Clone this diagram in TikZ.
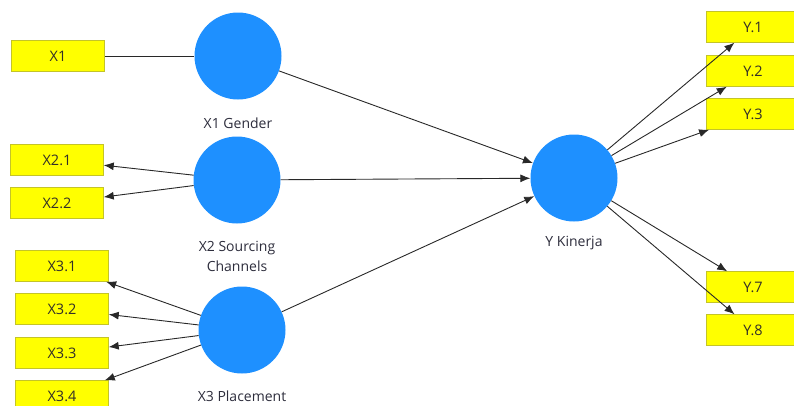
\documentclass[tikz,border=0pt]{standalone}
\usepackage{fontspec}
\setmainfont{Open Sans}
\usetikzlibrary{arrows.meta, positioning}
\definecolor{lvblue}{RGB}{30,144,255}
\definecolor{mvyellow}{RGB}{255,255,0}
\definecolor{mvborder}{RGB}{196,196,40}
\definecolor{pathgray}{RGB}{40,40,40}
\definecolor{lbltext}{RGB}{45,45,60}
\tikzstyle{latent} = [circle, fill=lvblue, minimum size=87pt, inner sep=0pt]
\tikzstyle{indicator} = [draw=mvborder, fill=mvyellow, rectangle, minimum width=93pt, minimum height=31pt, inner sep=0pt, text=black!85!olive, font=\fontsize{14.5}{16}\selectfont]
\tikzstyle{lvlabel} = [align=center, text=lbltext, font=\fontsize{14}{20}\selectfont]
\tikzstyle{link} = [draw=pathgray, line width=0.9pt]

\begin{document}
\begin{tikzpicture}[x=1pt,y=-1pt,>={Latex[length=10pt,width=8pt]}]
    \useasboundingbox (0,0) rectangle (794,405);
    \clip (0,0) rectangle (794,405);
    % indicators, left side
    \node [indicator] (x1) at (58,56) {X1};
    \node [indicator] (x21) at (57,160) {X2.1};
    \node [indicator] (x22) at (57,203) {X2.2};
    \node [indicator] (x31) at (62,266) {X3.1};
    \node [indicator] (x32) at (62,309) {X3.2};
    \node [indicator] (x33) at (62,353) {X3.3};
    \node [indicator] (x34) at (62,396) {X3.4};
    % latent variables
    \node [latent] (gender) at (238,56) {};
    \node [latent] (sourcing) at (237,180) {};
    \node [latent] (placement) at (242,330) {};
    \node [latent] (kinerja) at (574,178) {};
    \node [lvlabel] (genderlbl) at (238,123) {X1 Gender};
    \node [lvlabel] (sourcinglbl) at (237,256) {X2 Sourcing\\Channels};
    \node [lvlabel] (placementlbl) at (242,396) {X3 Placement};
    \node [lvlabel] (kinerjalbl) at (574,243) {Y Kinerja};
    % indicators, right side
    \node [indicator] (y1) at (753,27) {Y.1};
    \node [indicator] (y2) at (753,71) {Y.2};
    \node [indicator] (y3) at (753,114) {Y.3};
    \node [indicator] (y7) at (753,287) {Y.7};
    \node [indicator] (y8) at (753,330) {Y.8};
    % outer model
    \draw [link] (gender) -- (x1);
    \draw [link, ->] (sourcing) -- (x21);
    \draw [link, ->] (sourcing) -- (x22);
    \draw [link, ->] (placement) -- (x31);
    \draw [link, ->] (placement) -- (x32);
    \draw [link, ->] (placement) -- (x33);
    \draw [link, ->] (placement) -- (x34);
    \draw [link, ->] (kinerja) -- (y1);
    \draw [link, ->] (kinerja) -- (y2);
    \draw [link, ->] (kinerja) -- (y3);
    \draw [link, ->] (kinerja) -- (y7);
    \draw [link, ->] (kinerja) -- (y8);
    % inner model
    \draw [link, ->] (gender) -- (kinerja);
    \draw [link, ->] (sourcing) -- (kinerja);
    \draw [link, ->] (placement) -- (kinerja);
\end{tikzpicture}
\end{document}
